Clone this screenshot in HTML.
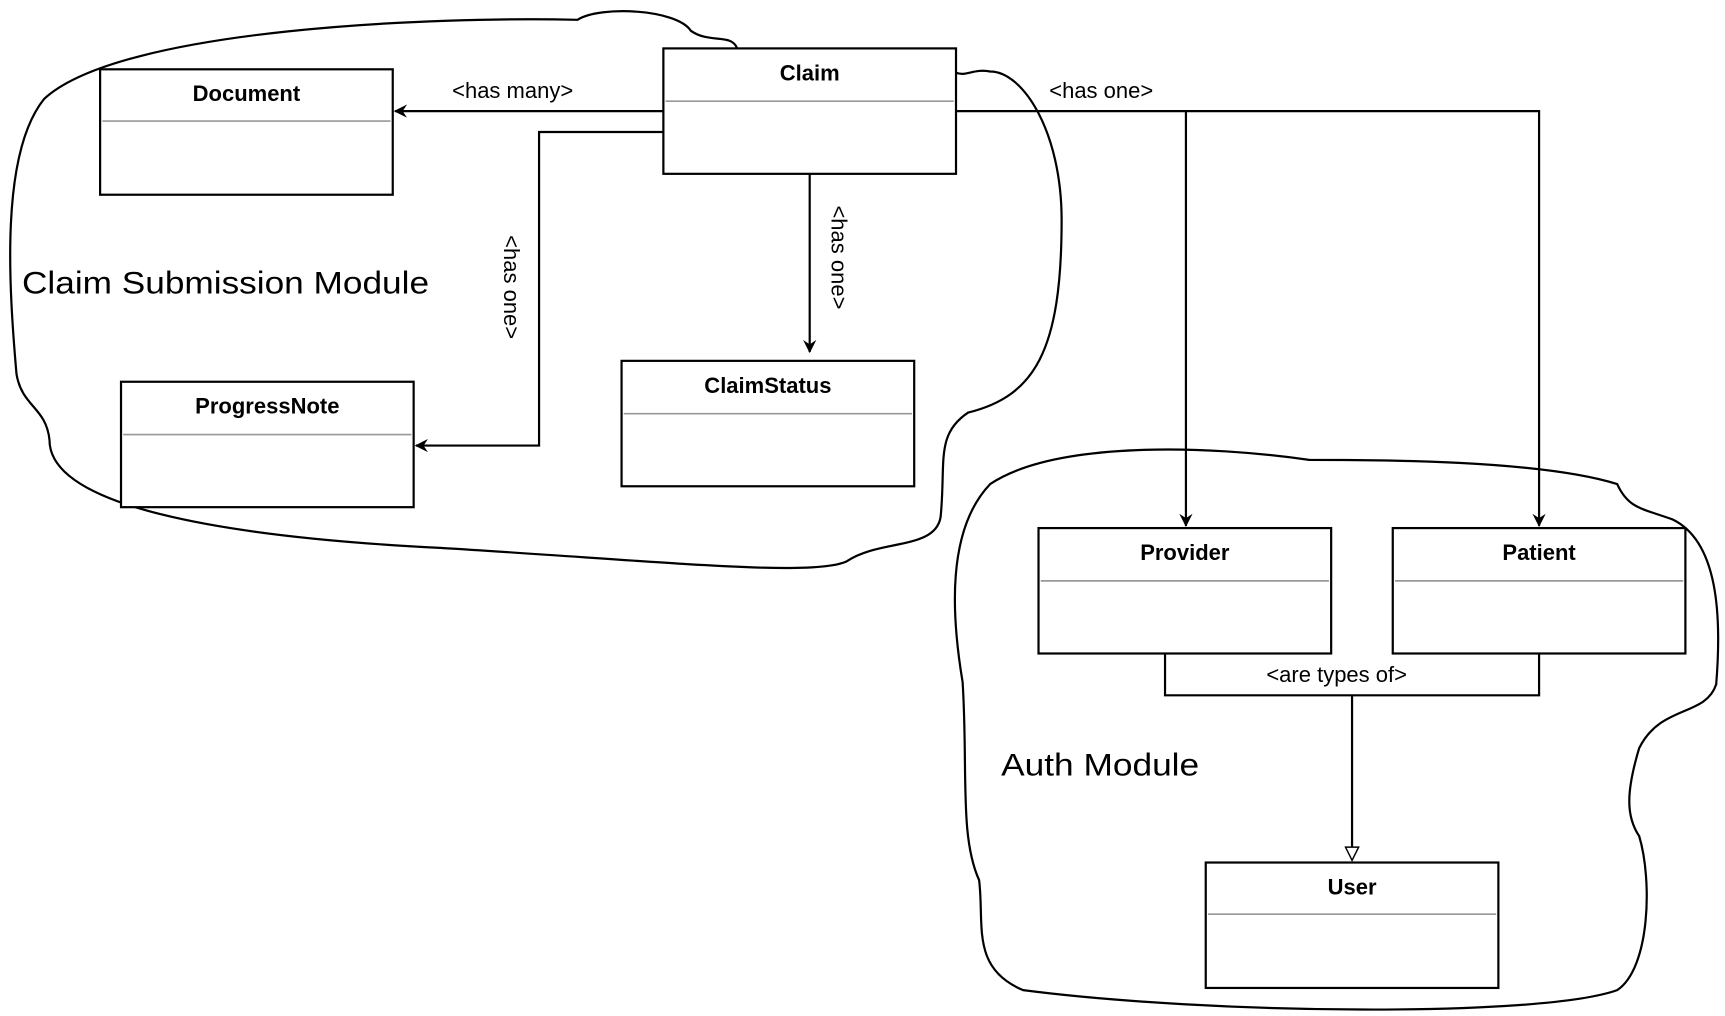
<!DOCTYPE html>
<html><head><meta charset="utf-8"><style>html,body{margin:0;padding:0;background:#fff}svg{display:block}</style></head>
<body>
<svg width="1725" height="1016" viewBox="0 0 1568 923.5" preserveAspectRatio="none" xmlns="http://www.w3.org/2000/svg" font-family="Liberation Sans, sans-serif">
<defs>
<marker id="a" viewBox="0 0 12 12" refX="11" refY="6" markerWidth="12" markerHeight="12" markerUnits="userSpaceOnUse" orient="auto"><path d="M0,0 L12,6 L0,12 L4,6 Z" fill="#000"/></marker>
<marker id="t" viewBox="0 0 14 14" refX="13" refY="7" markerWidth="14" markerHeight="14" markerUnits="userSpaceOnUse" orient="auto"><path d="M1,1 L13,7 L1,13 Z" fill="#fff" stroke="#000" stroke-width="1.3"/></marker>
</defs>
<g fill="none" stroke="#000" stroke-width="2">
<path d="M670,44 C665,30 645,40 628,28 C615,8 545,5 525,18 C400,15 110,25 40,90 C0,140 8,260 15,340 C20,370 42,370 45,400 C45,460 200,488 400,498 C600,510 740,525 770,510 C800,490 850,500 855,470 C860,420 850,395 880,375 C940,360 965,320 965,200 C965,120 930,65 900,65 C885,62 878,70 869,66"/>
<path d="M900,440 C960,400 1100,405 1190,418 C1250,418 1400,418 1470,440 C1480,462 1492,462 1520,472 C1562,492 1565,560 1560,622 C1550,652 1510,640 1490,680 C1478,720 1478,742 1490,760 C1502,800 1500,880 1470,900 C1400,925 1100,922 930,900 C882,880 895,840 890,800 C872,760 880,700 875,620 C865,560 860,482 900,440 Z"/>
</g>
<g fill="#fff" stroke="#000" stroke-width="2">
<rect x="91" y="63" width="266" height="114"/>
<rect x="603" y="44" width="266" height="114"/>
<rect x="565" y="328" width="266" height="114"/>
<rect x="110" y="347" width="266" height="114"/>
<rect x="944" y="480" width="266" height="114"/>
<rect x="1266" y="480" width="266" height="114"/>
<rect x="1096" y="784" width="266" height="114"/>
</g>
<g stroke="#999" stroke-width="1.5">
<line x1="93" y1="110" x2="355" y2="110"/>
<line x1="605" y1="92" x2="867" y2="92"/>
<line x1="567" y1="376" x2="829" y2="376"/>
<line x1="112" y1="395" x2="374" y2="395"/>
<line x1="946" y1="528" x2="1208" y2="528"/>
<line x1="1268" y1="528" x2="1530" y2="528"/>
<line x1="1098" y1="831" x2="1360" y2="831"/>
</g>
<g font-weight="bold" font-size="20" text-anchor="middle" fill="#000">
<text x="224" y="92">Document</text>
<text x="736" y="73">Claim</text>
<text x="698" y="357">ClaimStatus</text>
<text x="243" y="376">ProgressNote</text>
<text x="1077" y="509">Provider</text>
<text x="1399" y="509">Patient</text>
<text x="1229" y="813">User</text>
</g>
<g fill="none" stroke="#000" stroke-width="2">
<path d="M603,101 L359,101" marker-end="url(#a)"/>
<path d="M603,120 L490,120 L490,405 L378,405" marker-end="url(#a)"/>
<path d="M736,158 L736,320" marker-end="url(#a)"/>
<path d="M869,101 L1399,101 L1399,478" marker-end="url(#a)"/>
<path d="M1078,101 L1078,478" marker-end="url(#a)"/>
<path d="M1059,594 L1059,632 L1399,632 L1399,594"/>
<path d="M1229,632 L1229,782" marker-end="url(#t)"/>
</g>
<g font-size="20" fill="#000" text-anchor="middle">
<text x="466" y="89">&lt;has many&gt;</text>
<text x="1001" y="89">&lt;has one&gt;</text>
<text x="1215" y="620">&lt;are types of&gt;</text>
<text transform="translate(458,261) rotate(90)">&lt;has one&gt;</text>
<text transform="translate(756,234) rotate(90)">&lt;has one&gt;</text>
</g>
<g font-size="29" fill="#000">
<text x="20" y="267" textLength="370" lengthAdjust="spacingAndGlyphs">Claim Submission Module</text>
<text x="910" y="705" textLength="180" lengthAdjust="spacingAndGlyphs">Auth Module</text>
</g>
</svg>
</body></html>
